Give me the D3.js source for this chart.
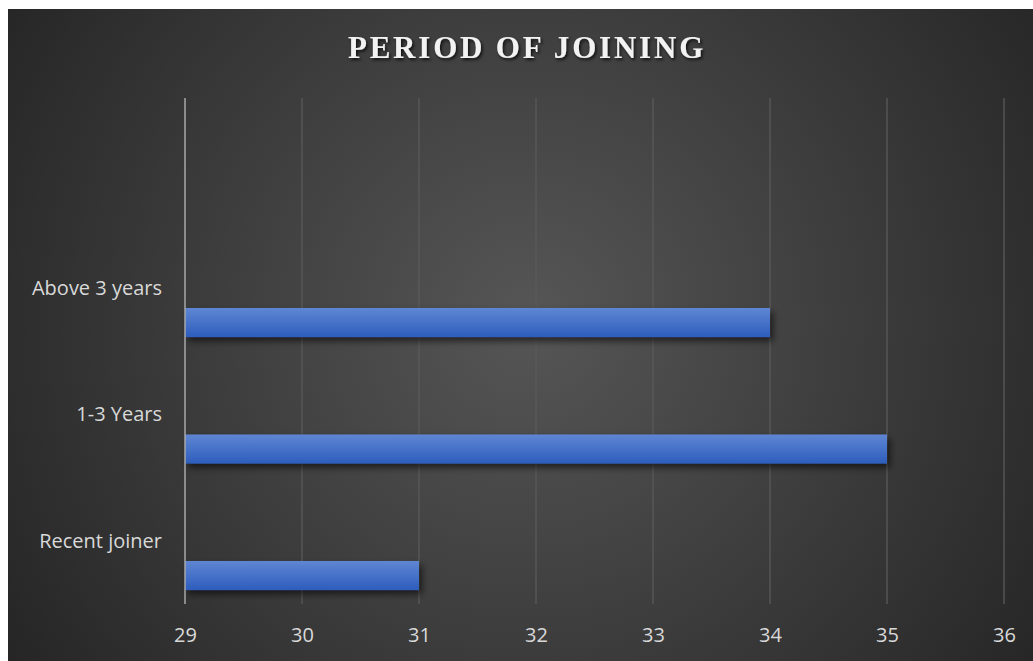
<!DOCTYPE html>
<html>
<head>
<meta charset="utf-8">
<script src="https://cdn.jsdelivr.net/npm/d3@7"></script>
<style>
  body { margin: 0; background: #ffffff; }
  svg { display: block; }
  .tick text { font-family: "Open Sans", "Noto Sans", sans-serif; }
</style>
</head>
<body>
<div id="chart"></div>
<script>
// Data
const categories = ["Recent joiner", "1-3 Years", "Above 3 years"];
const values = [31, 35, 34];
const xTicks = [29, 30, 31, 32, 33, 34, 35, 36];
const chartTitle = "PERIOD OF JOINING";

// Sizes
const w = 1033;
const h = 661;
const bgLeft = 8, bgTop = 9;
const plotLeft = 185, plotRight = 1004;
const plotTop = 98, plotBottom = 604;

let svg = d3.select("#chart")
            .append("svg")
            .attr("width", w)
            .attr("height", h);

let defs = svg.append("defs");

// background radial gradient
let bgGrad = defs.append("radialGradient")
    .attr("id", "bgGrad")
    .attr("gradientUnits", "userSpaceOnUse")
    .attr("cx", 530).attr("cy", 320).attr("r", 640);
bgGrad.append("stop").attr("offset", "0%").attr("stop-color", "#565656");
bgGrad.append("stop").attr("offset", "100%").attr("stop-color", "#242424");

// bar gradient
let barGrad = defs.append("linearGradient")
    .attr("id", "barGrad")
    .attr("x1", 0).attr("y1", 0).attr("x2", 0).attr("y2", 1);
barGrad.append("stop").attr("offset", "0%").attr("stop-color", "#5f86d3");
barGrad.append("stop").attr("offset", "100%").attr("stop-color", "#2d5dbd");

// shadows
let barShadow = defs.append("filter").attr("id", "barShadow")
    .attr("x", "-5%").attr("y", "-30%").attr("width", "115%").attr("height", "190%");
barShadow.append("feDropShadow")
    .attr("dx", 3).attr("dy", 4).attr("stdDeviation", 3.5)
    .attr("flood-color", "#000").attr("flood-opacity", 0.6);

let titleShadow = defs.append("filter").attr("id", "titleShadow")
    .attr("x", "-10%").attr("y", "-30%").attr("width", "120%").attr("height", "180%");
titleShadow.append("feDropShadow")
    .attr("dx", 1.5).attr("dy", 2).attr("stdDeviation", 1.5)
    .attr("flood-color", "#000").attr("flood-opacity", 0.75);

svg.append("rect")
    .attr("x", bgLeft).attr("y", bgTop)
    .attr("width", w - bgLeft).attr("height", h - bgTop)
    .attr("fill", "url(#bgGrad)");

// Scales
const xScale = d3.scaleLinear()
    .domain([d3.min(xTicks), d3.max(xTicks)])
    .range([plotLeft, plotRight]);

// four slots, top one is left empty (as in the original chart)
const slot = (plotBottom - plotTop) / (categories.length + 1);
const yScale = d3.scaleBand()
    .domain(categories)
    .range([plotBottom, plotTop + slot])
    .paddingInner(0).paddingOuter(0);

// Gridlines
svg.append("g")
    .selectAll("line")
    .data(xTicks.slice(1))
    .join("line")
        .attr("x1", d => xScale(d)).attr("x2", d => xScale(d))
        .attr("y1", plotTop).attr("y2", plotBottom)
        .attr("stroke", "#5a5a5a")
        .attr("stroke-width", 1.3);

// X axis labels
const xAxis = d3.axisBottom(xScale)
    .tickValues(xTicks)
    .tickFormat(d3.format("d"))
    .tickSize(0)
    .tickPadding(24);

svg.append("g")
    .attr("transform", "translate(0," + plotBottom + ")")
    .call(xAxis)
    .call(g => g.select(".domain").remove())
    .selectAll("text")
        .attr("fill", "#d9d9d9")
        .attr("font-size", 20);

// Bars
const bw = yScale.bandwidth();
svg.append("g")
    .selectAll("rect")
    .data(categories)
    .join("rect")
        .attr("x", xScale(29))
        .attr("y", d => yScale(d) + bw * 0.66)
        .attr("width", (d, i) => xScale(values[i]) - xScale(29))
        .attr("height", bw * 0.23)
        .attr("fill", "url(#barGrad)")
        .attr("filter", "url(#barShadow)");

// Y axis line
svg.append("line")
    .attr("x1", plotLeft).attr("x2", plotLeft)
    .attr("y1", plotTop).attr("y2", plotBottom)
    .attr("stroke", "#a8a8a8")
    .attr("stroke-width", 1.5);

// Category labels
svg.append("g")
    .selectAll("text")
    .data(categories)
    .join("text")
        .attr("x", 162)
        .attr("y", d => yScale(d) + bw / 2)
        .attr("dy", "0.35em")
        .attr("text-anchor", "end")
        .attr("fill", "#d9d9d9")
        .attr("font-family", "'Open Sans', 'Noto Sans', sans-serif")
        .attr("font-size", 20)
        .text(d => d);

// Title
svg.append("text")
    .attr("x", 527)
    .attr("y", 58)
    .attr("text-anchor", "middle")
    .attr("fill", "#f2f2f2")
    .attr("font-family", "'Liberation Serif', 'DejaVu Serif', serif")
    .attr("font-weight", "bold")
    .attr("font-size", 31)
    .attr("letter-spacing", 2.8)
    .attr("filter", "url(#titleShadow)")
    .text(chartTitle);
</script>
</body>
</html>
